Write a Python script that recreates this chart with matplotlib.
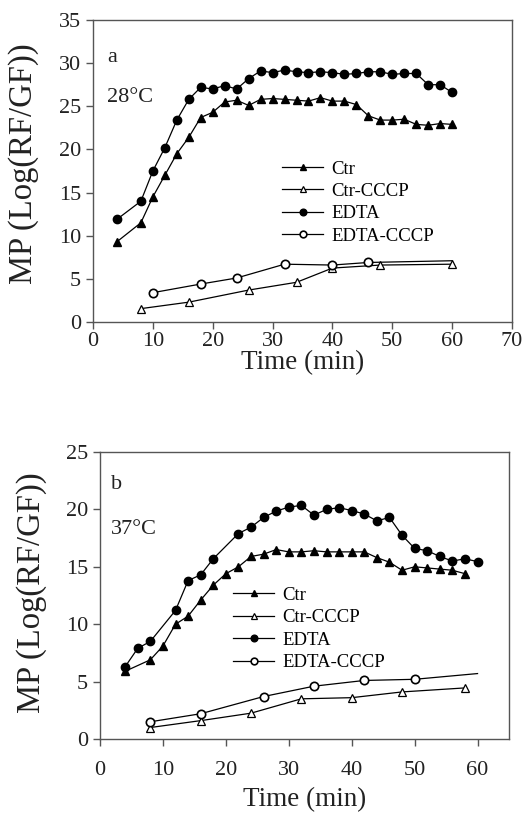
import matplotlib
matplotlib.use('Agg')
import matplotlib.pyplot as plt

plt.rcParams['font.family'] = ['Liberation Serif', 'DejaVu Serif']
plt.rcParams['axes.edgecolor'] = '#555555'
plt.rcParams['axes.linewidth'] = 1.0

labels = ['Ctr', 'Ctr-CCCP', 'EDTA', 'EDTA-CCCP']

# 28 C
ctr_a_t = [4, 8, 10, 12, 14, 16, 18, 20, 22, 24, 26, 28, 30, 32, 34, 36, 38, 40, 42, 44, 46, 48, 50, 52, 54, 56, 58, 60]
ctr_a = [9.3, 11.5, 14.5, 17.0, 19.5, 21.4, 23.7, 24.3, 25.5, 25.7, 25.1, 25.8, 25.9, 25.8, 25.7, 25.6,
         26.0, 25.6, 25.6, 25.2, 23.9, 23.4, 23.4, 23.5, 22.9, 22.8, 23.0, 22.9]
edta_a_t = ctr_a_t
edta_a = [11.9, 14.0, 17.5, 20.2, 23.4, 25.8, 27.2, 27.0, 27.4, 27.0, 28.2, 29.1, 28.9, 29.2, 29.0, 28.9,
          29.0, 28.9, 28.7, 28.8, 29.0, 29.0, 28.7, 28.8, 28.8, 27.5, 27.5, 26.6]
ctrcccp_a_t = [8, 16, 26, 34, 40, 48, 60]
ctrcccp_a = [1.55, 2.3, 3.7, 4.6, 6.25, 6.6, 6.7]
edtacccp_a_t = [10, 18, 24, 32, 40, 46, 60]
edtacccp_a = [3.4, 4.4, 5.1, 6.7, 6.6, 6.9, 7.1]

# 37 C
ctr_b_t = [4, 8, 10, 12, 14, 16, 18, 20, 22, 24, 26, 28, 30, 32, 34, 36, 38, 40, 42, 44, 46, 48, 50, 52, 54, 56, 58]
ctr_b = [5.9, 6.9, 8.1, 10.0, 10.7, 12.1, 13.4, 14.4, 15.0, 15.9, 16.1, 16.5, 16.3, 16.3, 16.4, 16.3,
         16.3, 16.3, 16.3, 15.8, 15.4, 14.7, 15.0, 14.9, 14.8, 14.7, 14.4]
edta_b_t = [4, 6, 8, 12, 14, 16, 18, 22, 24, 26, 28, 30, 32, 34, 36, 38, 40, 42, 44, 46, 48, 50, 52, 54, 56, 58, 60]
edta_b = [6.3, 7.9, 8.5, 11.2, 13.8, 14.3, 15.7, 17.9, 18.45, 19.3, 19.85, 20.2, 20.35, 19.5, 20.0,
          20.15, 19.9, 19.6, 19.0, 19.3, 17.75, 16.6, 16.4, 15.9, 15.5, 15.7, 15.45]
ctrcccp_b_t = [8, 16, 24, 32, 40, 48, 58]
ctrcccp_b = [1.0, 1.6, 2.25, 3.5, 3.6, 4.1, 4.45]
edtacccp_b_t = [8, 16, 26, 34, 42, 50, 60]
edtacccp_b = [1.5, 2.2, 3.7, 4.6, 5.1, 5.2, 5.7]


def draw_panel(ax, ctr, ctrc, edta, edtac, xpad, xlabelpad):
    kw = dict(color='black', lw=0.9)
    ax.plot(ctr[0], ctr[1], marker='^', ms=6, mfc='black', mec='black', label=labels[0], **kw)
    ax.plot(ctrc[0], ctrc[1], marker='^', ms=6, mfc='white', mec='black', mew=0.9, label=labels[1], **kw)
    ax.plot(edta[0], edta[1], marker='o', ms=6, mfc='black', mec='black', label=labels[2], **kw)
    # last EDTA-CCCP point has no marker shown
    ax.plot(edtac[0], edtac[1], marker='o', ms=6, mfc='white', mec='black', mew=1.2,
            markevery=list(range(len(edtac[0]) - 1)), label=labels[3], **kw)
    ax.tick_params(direction='out', length=5, width=1.0, labelsize=16, colors='#555555',
                   labelcolor='#222222')
    ax.tick_params(axis='x', pad=xpad)
    ax.set_xlabel('Time (min)', fontsize=19.5, color='#222222', labelpad=xlabelpad)
    ax.set_ylabel('MP (Log(RF/GF))', fontsize=23.5, color='#222222')


fig = plt.figure(figsize=(5.26, 8.16), dpi=100)

ax1 = fig.add_axes([93 / 526, 1 - 322 / 816, 419 / 526, 302 / 816])
draw_panel(ax1, (ctr_a_t, ctr_a), (ctrcccp_a_t, ctrcccp_a), (edta_a_t, edta_a), (edtacccp_a_t, edtacccp_a),
           2.5, -1)
ax1.set_xlim(0, 70)
ax1.set_ylim(0, 35)
ax1.set_xticks(range(0, 71, 10))
ax1.set_yticks(range(0, 36, 5))
ax1.yaxis.set_label_coords(-0.128, 0.525)
ax1.text(2.4, 30.1, 'a', fontsize=16, color='#222222')
ax1.text(2.4, 25.5, '28°C', fontsize=16, color='#222222')
ax1.legend(loc='upper left', bbox_to_anchor=(0.451, 0.535), frameon=False, fontsize=13.5,
           handlelength=2.2, handletextpad=0.45, labelspacing=0.28, borderpad=0, borderaxespad=0,
           markerscale=0.8)

ax2 = fig.add_axes([100 / 526, 1 - 739 / 816, 409 / 526, 287 / 816])
draw_panel(ax2, (ctr_b_t, ctr_b), (ctrcccp_b_t, ctrcccp_b), (edta_b_t, edta_b), (edtacccp_b_t, edtacccp_b),
           11, 5)
ax2.set_xlim(0, 65)
ax2.set_ylim(0, 25)
ax2.set_xticks(range(0, 61, 10))
ax2.set_yticks(range(0, 26, 5))
ax2.yaxis.set_label_coords(-0.13, 0.51)
ax2.text(1.8, 21.8, 'b', fontsize=16, color='#222222')
ax2.text(1.8, 17.9, '37°C', fontsize=16, color='#222222')
ax2.legend(loc='upper left', bbox_to_anchor=(0.325, 0.53), frameon=False, fontsize=13.5,
           handlelength=2.2, handletextpad=0.45, labelspacing=0.28, borderpad=0, borderaxespad=0,
           markerscale=0.8)

fig.savefig('out.png', dpi=100)
